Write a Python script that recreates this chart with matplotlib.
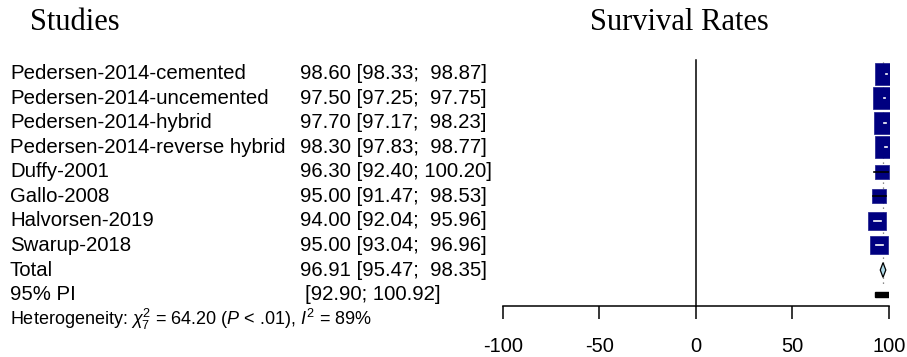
import matplotlib
matplotlib.use("Agg")
import matplotlib.pyplot as plt
from matplotlib.patches import Polygon, Rectangle
from matplotlib.transforms import blended_transform_factory

plt.rcParams['font.family'] = ['Liberation Sans', 'DejaVu Sans']
plt.rcParams['mathtext.fontset'] = 'custom'
plt.rcParams['mathtext.rm'] = 'Liberation Sans'
plt.rcParams['mathtext.it'] = 'Liberation Sans:italic'

# data
studies = ["Pedersen-2014-cemented", "Pedersen-2014-uncemented", "Pedersen-2014-hybrid",
           "Pedersen-2014-reverse hybrid", "Duffy-2001", "Gallo-2008",
           "Halvorsen-2019", "Swarup-2018"]
est = [98.60, 97.50, 97.70, 98.30, 96.30, 95.00, 94.00, 95.00]
lower = [98.33, 97.25, 97.17, 97.83, 92.40, 91.47, 92.04, 93.04]
upper = [98.87, 97.75, 98.23, 98.77, 100.20, 98.53, 95.96, 96.96]
weights = [15.8, 15.7, 15.7, 15.7, 6.5, 7.3, 11.2, 12.1]
total = [96.91, 95.47, 98.35]
pi = [92.90, 100.92]
ticks = [-100, -50, 0, 50, 100]
het_text = r'Heterogeneity: $\chi^2_7$ = 64.20 ($P$ < .01), $I^2$ = 89%'

W, H = 907, 357
fig = plt.figure(figsize=(W / 100, H / 100), dpi=100)
ax = fig.add_axes([503 / W, 1 - 306 / H, 386 / W, 256 / H])
# rows: 0 at 74px, 24.5px apart
ax.set_ylim((306 - 74) / 24.5, -(74 - 50) / 24.5)
ax.set_xlim(-100, 100)
for s in ['top', 'right', 'left']:
    ax.spines[s].set_visible(False)
ax.spines['bottom'].set_linewidth(1.1)
ax.set_yticks([])
ax.set_xticks(ticks)
ax.set_xticklabels([str(t) for t in ticks], fontsize=14.5)
ax.tick_params(axis='x', length=9, width=1.1, pad=13)
ax.patch.set_alpha(0)

ax.plot([0, 0], [ax.get_ylim()[0], (60 - 74) / 24.5], color='black', lw=1.1, clip_on=False)
ax.plot([total[0], total[0]], [-0.5, 8.6], color='#666666', lw=0.9, ls=(0, (1, 3)), zorder=1)

pxu = 386 / 200
n = len(studies)
for i in range(n):
    side = 5.3 * weights[i] ** 0.5
    ax.scatter(est[i], i, marker='s', s=(side * 0.72) ** 2, color='#000080',
               edgecolor='#1a1a8a', lw=0.5, zorder=3)
    col = 'black' if (upper[i] - lower[i]) * pxu > 0.8 * side else 'white'
    ax.plot([lower[i], upper[i]], [i, i], color=col, lw=1.2, zorder=4)

ax.add_patch(Polygon([[total[1], n], [total[0], n - 0.3], [total[2], n], [total[0], n + 0.3]],
                     closed=True, facecolor='#add8e6', edgecolor='black', lw=0.9, zorder=3))
ax.add_patch(Rectangle((pi[0], n + 1 - 0.12), pi[1] - pi[0], 0.24,
                       facecolor='black', edgecolor='black', zorder=3))

tr = blended_transform_factory(fig.transFigure, ax.transData)
fs = 14.7
for i in range(n):
    ax.text(10 / W, i, studies[i], transform=tr, fontsize=fs, va='center', ha='left')
    ax.text(300 / W, i, f"{est[i]:.2f} [{lower[i]:.2f}; {upper[i]:6.2f}]",
            transform=tr, fontsize=fs, va='center', ha='left')
ax.text(10 / W, n, "Total", transform=tr, fontsize=fs, va='center')
ax.text(300 / W, n, f"{total[0]:.2f} [{total[1]:.2f}; {total[2]:6.2f}]",
        transform=tr, fontsize=fs, va='center')
ax.text(10 / W, n + 1, "95% PI", transform=tr, fontsize=fs, va='center')
ax.text(305 / W, n + 1, f"[{pi[0]:.2f}; {pi[1]:.2f}]", transform=tr, fontsize=fs, va='center')
ax.text(10 / W, n + 2, het_text, transform=tr, fontsize=13, va='center')

fig.text(30 / W, 1 - 30 / H, "Studies", fontsize=22, family='Liberation Serif', va='baseline')
fig.text(679 / W, 1 - 30 / H, "Survival Rates", fontsize=22, family='Liberation Serif',
         va='baseline', ha='center')

fig.savefig("out.png", dpi=100, facecolor='white')
